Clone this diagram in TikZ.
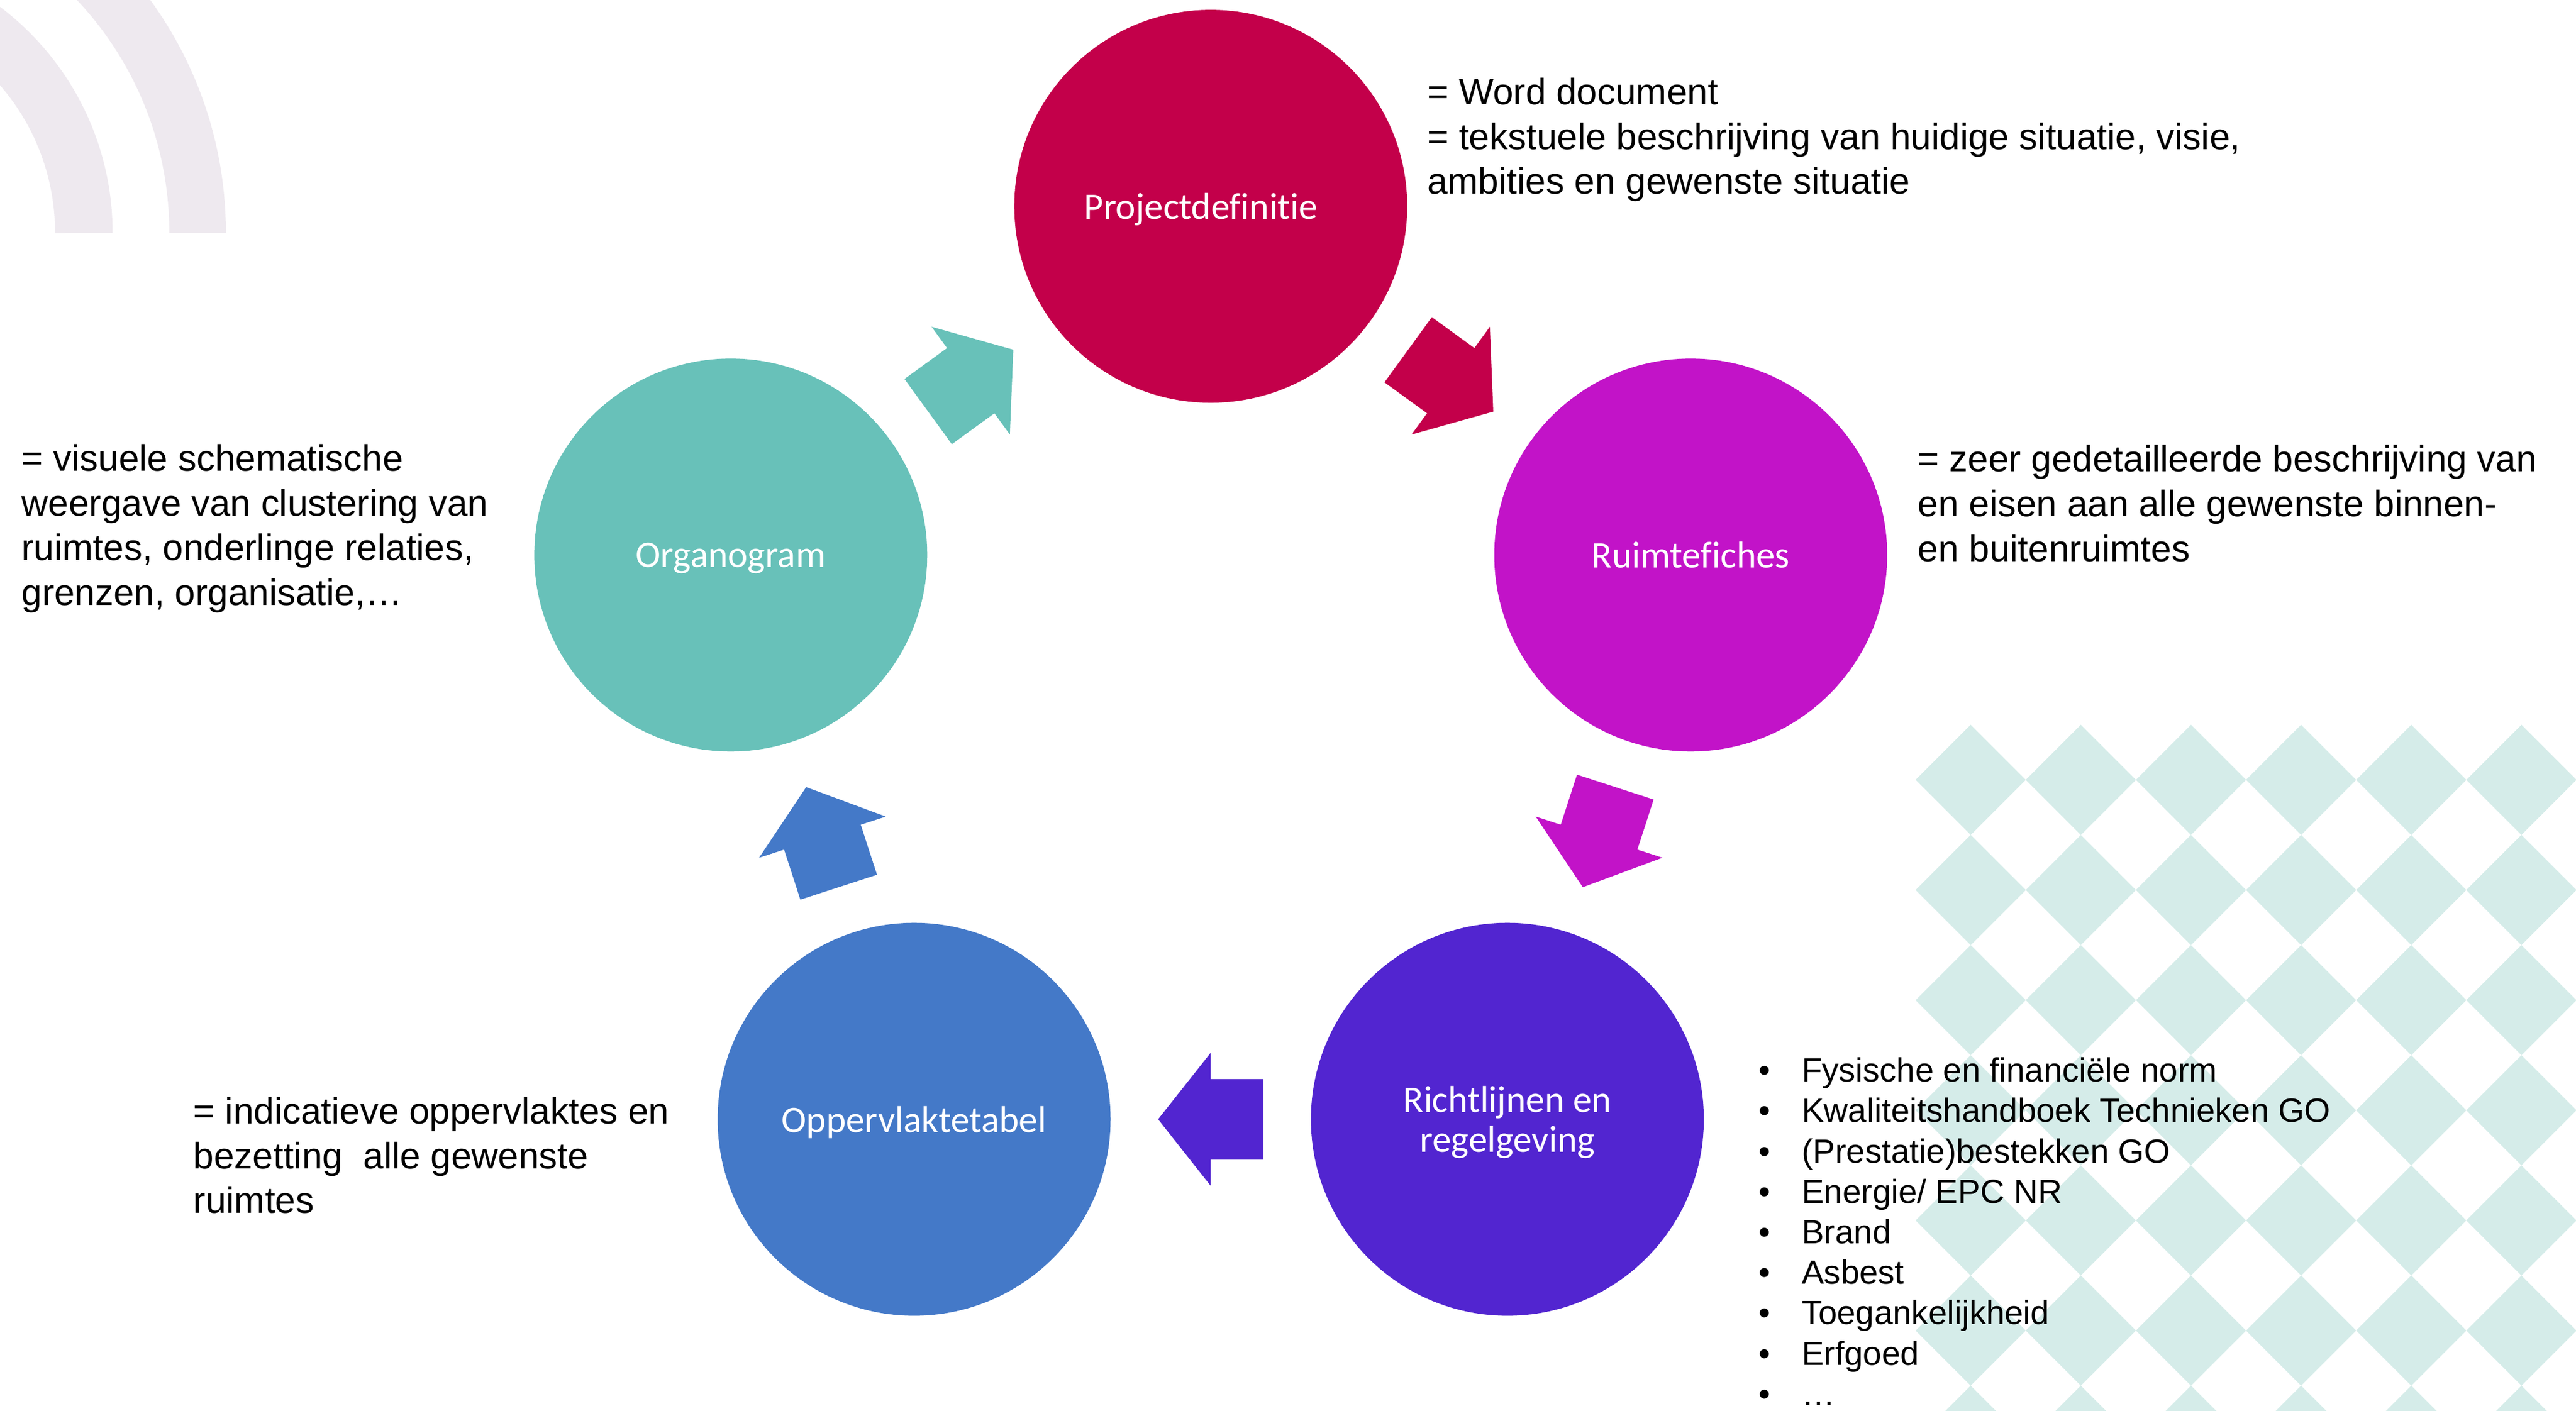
\documentclass[tikz,border=0pt]{standalone}
\usepackage{fontspec}
\setmainfont{Liberation Sans}
\newfontfamily\stagefont[Ligatures=NoCommon]{Carlito}
\usetikzlibrary{calc,positioning}
\definecolor{projcol}{HTML}{C3004A}
\definecolor{ruimcol}{HTML}{C213C8}
\definecolor{richcol}{HTML}{5225D0}
\definecolor{oppcol}{HTML}{4479C8}
\definecolor{orgcol}{HTML}{68C1B9}
\definecolor{arccol}{HTML}{EEE9EF}
\definecolor{diacol}{HTML}{D5ECE9}
\tikzset{
    stage/.style ={circle, minimum size=2.39cm, inner sep=0pt, text=white, align=center,
                   text depth=0pt, font=\stagefont\fontsize{6.5}{6.9}\selectfont},
    note/.style = {anchor=base west, inner sep=0pt, align=left,
                   font=\fontsize{6.37}{7.74}\selectfont},
    bullets/.style = {note, font=\fontsize{5.8}{7.0}\selectfont},
    bgarc/.style = {arccol, line width=0.35cm},
    cyclearrow/.pic = {\fill (-0.32,-0.245) -- (0,-0.245) -- (0,-0.405) -- (0.32,0)
                          -- (0,0.405) -- (0,0.245) -- (-0.32,0.245) -- cycle;}
}
\newcommand{\itm}[1]{\makebox[0.263cm][l]{\textbullet}#1}

\begin{document}
\begin{tikzpicture}
    \useasboundingbox (0,0) rectangle (15.67,8.583);
    \clip (0,0) rectangle (15.67,8.583);
    % achtergrond
    \coordinate (arc0) at (-1.038,7.166);
    \draw[bgarc] ([shift={(0:1.548)}]arc0) arc[start angle=0, end angle=90, radius=1.548];
    \draw[bgarc, line width=0.344cm] ([shift={(0:2.24)}]arc0) arc[start angle=0, end angle=90, radius=2.24];
    \foreach \i in {0,...,5}
      \foreach \j in {0,...,6}
        \fill[diacol] ({11.988+0.67*\i},{3.839-0.67*\j}) +(-0.335,0) -- +(0,0.335) -- +(0.335,0) -- +(0,-0.335) -- cycle;

    % cyclus
    \coordinate (m) at (7.365,4.258);
    \node[stage, fill=projcol] (proj) at ([shift={(90:3.07)}]m) {Projectdefinitie\rule{1.2mm}{0pt}};
    \node[stage, fill=ruimcol] (ruim) at ([shift={(18:3.07)}]m) {Ruimtefiches};
    \node[stage, fill=richcol] (rich) at ([shift={(-54:3.07)}]m) {Richtlijnen en\\regelgeving};
    \node[stage, fill=oppcol] (opp) at ([shift={(-126:3.07)}]m) {Oppervlaktetabel};
    \node[stage, fill=orgcol] (org) at ([shift={(162:3.07)}]m) {Organogram};

    \pic[projcol, rotate=-36] at ($(proj)!0.5!(ruim)$) {cyclearrow};
    \pic[ruimcol, rotate=-108] at ($(ruim)!0.5!(rich)$) {cyclearrow};
    \pic[richcol, rotate=180] at ($(rich)!0.5!(opp)$) {cyclearrow};
    \pic[oppcol, rotate=108] at ($(opp)!0.5!(org)$) {cyclearrow};
    \pic[orgcol, rotate=36] at ($(org)!0.5!(proj)$) {cyclearrow};

    % toelichting (base = laatste regel)
    \node[note] (projtxt) at (8.675,7.402) {= Word document\\= tekstuele beschrijving van huidige situatie, visie,\\ambities en gewenste situatie};
    \node[note] (ruimtxt) at (11.66,5.169) {= zeer gedetailleerde beschrijving van\\en eisen aan alle gewenste binnen-\\en buitenruimtes};
    \node[note] (orgtxt) at (0.125,4.901) {= visuele schematische\\weergave van clustering van\\ruimtes, onderlinge relaties,\\grenzen, organisatie,…};
    \node[note] (opptxt) at (1.17,1.202) {= indicatieve oppervlaktes en\\bezetting~ alle gewenste\\ruimtes};
    \node[bullets] (richtxt) at (10.69,0.034) {\itm{Fysische en financiële norm}\\\itm{Kwaliteitshandboek Technieken GO}\\\itm{(Prestatie)bestekken GO}\\\itm{Energie/ EPC NR}\\\itm{Brand}\\\itm{Asbest}\\\itm{Toegankelijkheid}\\\itm{Erfgoed}\\\itm{…}};
\end{tikzpicture}
\end{document}
